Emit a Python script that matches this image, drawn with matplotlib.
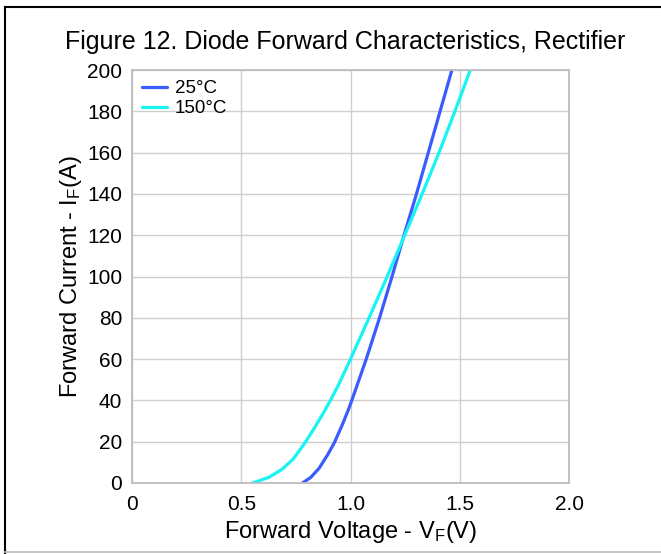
import matplotlib
matplotlib.use("Agg")
import matplotlib.pyplot as plt
from matplotlib.lines import Line2D

plt.rcParams['font.family'] = ['Liberation Sans', 'DejaVu Sans']
plt.rcParams['mathtext.fontset'] = 'custom'
plt.rcParams['mathtext.rm'] = 'Liberation Sans'
plt.rcParams['mathtext.it'] = 'Liberation Sans'

# Data
v_25 = [0.78, 0.818, 0.856, 0.895, 0.926, 0.962, 0.990, 1.006, 1.072, 1.133, 1.19, 1.245, 1.302, 1.356, 1.410, 1.464]
i_25 = [0, 2.7, 7.1, 13.6, 19.5, 28.1, 35.4, 40, 60, 80, 100, 120, 140, 160, 180, 200]
v_150 = [0.552, 0.626, 0.686, 0.737, 0.792, 0.834, 0.879, 0.908, 0.945, 1.0, 1.085, 1.168, 1.248, 1.328, 1.405, 1.478, 1.548]
i_150 = [0, 2.7, 6.6, 11.5, 19.5, 26.5, 34.5, 40, 47.5, 60, 80, 100, 120, 140, 160, 180, 200]

labels = ['25°C', '150°C']
colors = ['#3a5cff', '#17f4f4']
x_ticks = [0, 0.5, 1.0, 1.5, 2.0]
x_ticklabels = ['0', '0.5', '1.0', '1.5', '2.0']
y_ticks = list(range(0, 201, 20))

W, H = 661, 554
fig = plt.figure(figsize=(W/100, H/100), dpi=100)
L, R, T, B = 132, 569, 70, 483
ax = fig.add_axes([L/W, 1 - B/H, (R-L)/W, (B-T)/H])

ax.plot(v_25, i_25, color=colors[0], lw=2.3, label=labels[0], solid_capstyle='round', solid_joinstyle='round')
ax.plot(v_150, i_150, color=colors[1], lw=2.3, label=labels[1], solid_capstyle='round', solid_joinstyle='round')

ax.set_xlim(0, 2.0)
ax.set_ylim(0, 200)
ax.set_xticks(x_ticks)
ax.set_xticklabels(x_ticklabels)
ax.set_yticks(y_ticks)
ax.tick_params(length=0, labelsize=15)
ax.tick_params(axis='y', pad=7)
ax.tick_params(axis='x', pad=9)
ax.grid(True, color='#cfcfcf', lw=1.0)
ax.set_axisbelow(True)
for s in ax.spines.values():
    s.set_color('#bdbdbd')
    s.set_linewidth(1.3)

ax.set_xlabel(r'Forward Voltage - V$_{\mathrm{F}}$(V)', fontsize=17, labelpad=3)
ax.set_ylabel(r'Forward Current - I$_{\mathrm{F}}$(A)', fontsize=17, labelpad=2)
fig.text(345/W, 1 - 42/H, 'Figure 12. Diode Forward Characteristics, Rectifier',
         ha='center', va='center', fontsize=18)

leg = ax.legend(loc='upper left', frameon=False, fontsize=13.5, handlelength=1.3,
                handletextpad=0.45, labelspacing=0.15, borderaxespad=0.25, borderpad=0.3)

# outer frame
fig.add_artist(Line2D([5/W, 5/W], [0, 1 - 7/H], color='black', lw=1.5, transform=fig.transFigure))
fig.add_artist(Line2D([5/W, 1], [1 - 7/H, 1 - 7/H], color='black', lw=1.5, transform=fig.transFigure))
fig.add_artist(Line2D([5/W, 1], [1 - 552/H, 1 - 552/H], color='#bbbbbb', lw=1.2, transform=fig.transFigure))

fig.savefig('out.png', dpi=100)
